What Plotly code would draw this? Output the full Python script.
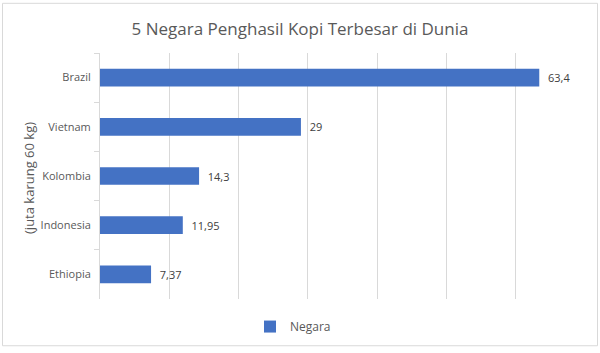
import plotly.graph_objects as go

countries = ["Brazil", "Vietnam", "Kolombia", "Indonesia", "Ethiopia"]
values = [63.4, 29, 14.3, 11.95, 7.37]
labels = ["63,4", "29", "14,3", "11,95", "7,37"]
series_name = "Negara"
title = "5 Negara Penghasil Kopi Terbesar di Dunia"
y_title = "(juta karung 60 kg)"

W, H = 600, 353
L, R, T, B = 100, 15, 53, 50
pw, ph = W - L - R, H - T - B

def px_x(x):
    return (x - L) / pw

def px_y(y):
    return (H - B - y) / ph

fig = go.Figure()
fig.add_trace(go.Bar(
    y=countries, x=values, orientation="h", name=series_name,
    marker=dict(color="#4472C4", line=dict(width=0)),
    text=["  " + t for t in labels], textposition="outside",
    textfont=dict(family="Open Sans", size=11, color="#404040"),
    cliponaxis=False,
))

fig.update_layout(
    width=W, height=H,
    margin=dict(l=L, r=R, t=T, b=B),
    paper_bgcolor="white", plot_bgcolor="white",
    font=dict(family="Open Sans", color="#595959", size=11),
    title=dict(text=title, x=0.5, xref="container", xanchor="center",
               y=1 - 29 / H, yanchor="middle",
               font=dict(size=17, color="#595959", family="Open Sans")),
    bargap=0.64,
    showlegend=True,
    legend=dict(orientation="h", x=px_x(293), xanchor="center",
                y=px_y(331), yanchor="middle",
                font=dict(size=12, color="#595959"),
                itemwidth=30),
    xaxis=dict(range=[0, 70], dtick=10, showticklabels=False,
               showgrid=True, gridcolor="#d9d9d9", gridwidth=1,
               zeroline=False, showline=False, fixedrange=True),
    yaxis=dict(autorange="reversed", showline=True, linecolor="#d9d9d9",
               linewidth=1, ticks="outside", tickson="boundaries",
               ticklen=5, tickcolor="#d9d9d9", ticklabelstandoff=6,
               tickfont=dict(size=11, color="#595959")),
    shapes=[dict(type="rect", xref="paper", yref="paper",
                 x0=px_x(2.5), x1=px_x(597.5), y0=px_y(350.5), y1=px_y(2.5),
                 line=dict(color="#d9d9d9", width=1), layer="below")],
    annotations=[dict(text=y_title, textangle=-90, xref="paper", yref="paper",
                      x=px_x(29), y=px_y(180), xanchor="center", yanchor="middle",
                      showarrow=False, font=dict(size=13, color="#595959"))],
)

fig.write_html("out.html")
